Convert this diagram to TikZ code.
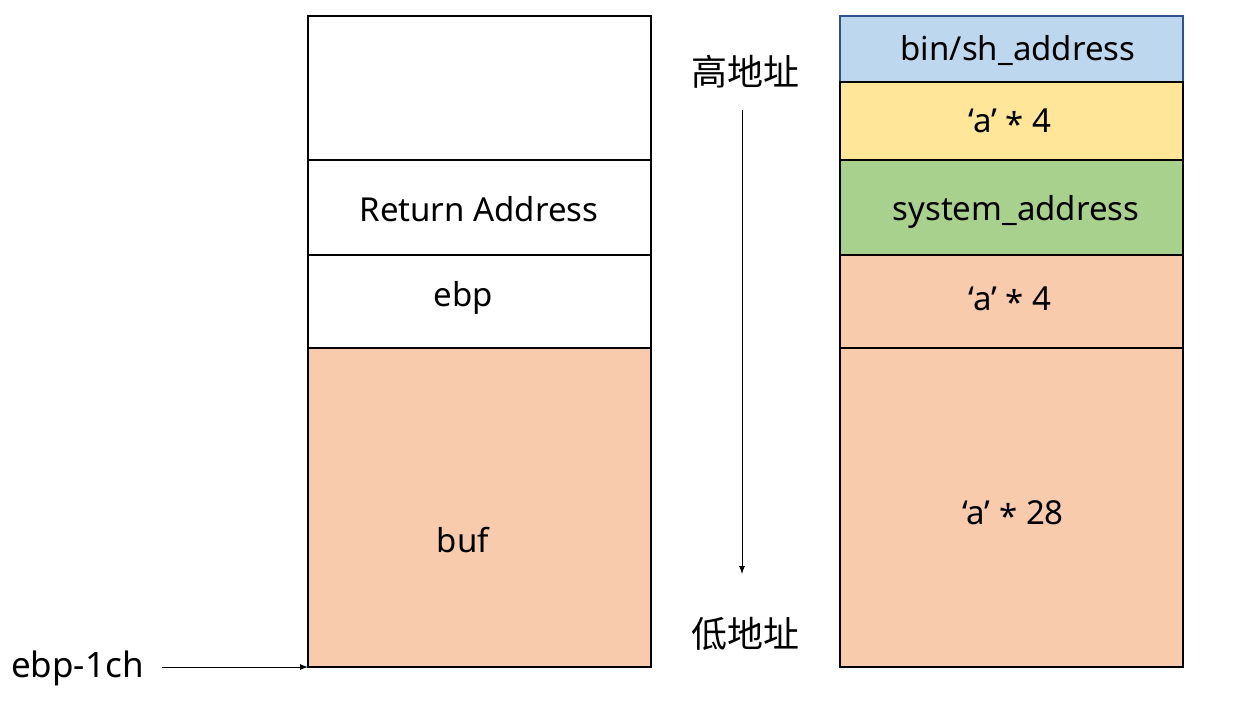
\documentclass[tikz,border=0pt]{standalone}
\usepackage{fontspec}
\setmainfont{Noto Sans}
\newfontfamily\cjkfont{Noto Sans CJK SC}
\usetikzlibrary{arrows.meta}
\definecolor{cblue}{HTML}{BDD7EE}
\definecolor{cyellow}{HTML}{FFE699}
\definecolor{cgreen}{HTML}{A9D18E}
\definecolor{corange}{HTML}{F8CBAD}
\definecolor{edgeblue}{HTML}{2F528F}
\newcommand{\mystar}{\raisebox{-0.12em}{*}}
\begin{document}
\begin{tikzpicture}[x=1pt,y=-1pt,
  cell/.style={draw=black,line width=1.2pt,minimum width=343pt,anchor=north west,inner sep=0pt,outer sep=0pt},
  txt/.style={font=\fontsize{33}{38}\selectfont,inner sep=0pt},
  cjk/.style={font=\cjkfont\fontsize{36}{40}\selectfont,inner sep=0pt},
  arr/.style={-{Latex[length=8pt,width=6pt]},line width=1pt}]
\useasboundingbox (0,0) rectangle (1243,702);
% left column
\node[cell,minimum height=144pt] (l1) at (308,16) {};
\node[cell,minimum height=95pt] (l2) at (308,160) {};
\node[cell,minimum height=93pt] (l3) at (308,255) {};
\node[cell,fill=corange,minimum height=319pt] (l4) at (308,348) {};
\node[txt] (tl2) at (479,209) {Return Address};
\node[txt] (tl3) at (463,298) {ebp};
\node[txt] (tl4) at (463,540) {buf};
% right column
\node[cell,fill=cblue,draw=edgeblue,minimum height=66pt] (r1) at (840,16) {};
\node[cell,fill=cyellow,minimum height=78pt] (r2) at (840,82) {};
\node[cell,fill=cgreen,minimum height=95pt] (r3) at (840,160) {};
\node[cell,fill=corange,minimum height=93pt] (r4) at (840,255) {};
\node[cell,fill=corange,minimum height=319pt] (r5) at (840,348) {};
\node[txt] (tr1) at (1018,50) {bin/sh\_address};
\node[txt] (tr2) at (1010,123) {‘a’ \mystar{} 4};
\node[txt] (tr3) at (1016,212) {system\_address};
\node[txt] (tr4) at (1010,301) {‘a’ \mystar{} 4};
\node[txt] (tr5) at (1013,515) {‘a’ \mystar{} 28};
% middle
\node[cjk] (hi) at (745,72) {高地址};
\node[cjk] (lo) at (745,634) {低地址};
\coordinate (a1) at (742,110);
\coordinate (a2) at (742,574);
\draw[arr] (a1) -- (a2);
% ebp-1ch
\node[txt,font=\fontsize{35}{40}\selectfont,anchor=west] (ebp) at (11,668) {ebp-1ch};
\coordinate (e1) at (162,667);
\draw[arr] (e1) -- (l4.south west);
\end{tikzpicture}
\end{document}
